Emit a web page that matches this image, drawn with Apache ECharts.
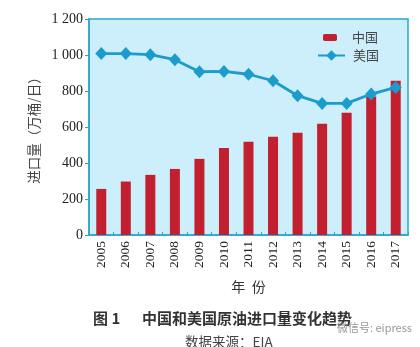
<!DOCTYPE html>
<html><head><meta charset="utf-8">
<script src="https://cdn.jsdelivr.net/npm/echarts@6/dist/echarts.min.js"></script>
<style>html,body{margin:0;padding:0;background:#fff}#c{width:420px;height:347px}</style>
</head><body><div id="c"></div>
<script>
const years = ['2005','2006','2007','2008','2009','2010','2011','2012','2013','2014','2015','2016','2017'];
const chinaImports = [256, 297, 334, 367, 423, 484, 518, 546, 568, 618, 679, 770, 857];
const usImports = [1008, 1008, 1002, 974, 907, 909, 893, 857, 774, 731, 731, 783, 820];
const yTicks = ['0','200','400','600','800','1 000','1 200'];

const serif = '"Liberation Serif","DejaVu Serif","Noto Sans CJK SC",serif';
const cjk = '"Noto Sans CJK SC",sans-serif';
const axisColor = '#2aa6c9';
const chart = echarts.init(document.getElementById('c'), null, {renderer:'canvas'});
chart.setOption({
  animation:false,
  grid:{left:89, right:12, top:19, bottom:112, show:true, backgroundColor:'#cdeefb', borderColor:axisColor, borderWidth:1.5},
  legend:[
    {left:323, top:31, itemWidth:14, itemHeight:7, padding:0,
     textStyle:{fontFamily:cjk, fontSize:13, color:'#444', padding:[0,0,0,10]},
     data:[{name:'中国', icon:'roundRect'}]},
    {left:317, top:49, itemWidth:27, itemHeight:13, padding:0,
     textStyle:{fontFamily:cjk, fontSize:13, color:'#444', padding:[0,0,0,3]},
     data:[{name:'美国'}]}
  ],
  xAxis:{
    type:'category', data:years,
    axisLine:{lineStyle:{color:axisColor, width:1.5}},
    axisTick:{show:true, inside:true, length:3, lineStyle:{color:axisColor}},
    axisLabel:{rotate:90, fontFamily:serif, fontSize:13.5, color:'#222', margin:6},
    name:'年  份', nameLocation:'middle', nameGap:45,
    nameTextStyle:{fontFamily:cjk, fontSize:14, color:'#333'}
  },
  yAxis:{
    type:'value', min:0, max:1200, interval:200,
    axisLine:{show:true, lineStyle:{color:axisColor, width:1.5}},
    axisTick:{show:true, length:4, lineStyle:{color:axisColor}},
    splitLine:{show:false},
    axisLabel:{fontFamily:serif, fontSize:14, color:'#222', margin:6,
      formatter:function(v){return yTicks[Math.round(v/200)];}},
    name:'进口量（万桶/日）', nameLocation:'middle', nameGap:45, nameRotate:90,
    nameTextStyle:{fontFamily:cjk, fontSize:13.5, color:'#444'}
  },
  series:[
    {name:'中国', type:'bar', data:chinaImports, barWidth:10, itemStyle:{color:'#c2202f'}},
    {name:'美国', type:'line', data:usImports, symbol:'diamond', symbolSize:[12,13],
      lineStyle:{color:'#1b9ccd', width:2.8}, itemStyle:{color:'#1b9ccd'}}
  ],
  graphic:[
    {type:'text', x:93, y:318, style:{text:'图 1', font:'bold 15px "Noto Sans CJK SC", sans-serif', fill:'#333', verticalAlign:'middle'}},
    {type:'text', x:142, y:318, style:{text:'中国和美国原油进口量变化趋势', font:'bold 15px "Noto Sans CJK SC", sans-serif', fill:'#333', verticalAlign:'middle'}},
    {type:'text', x:185, y:342, style:{text:'数据来源：EIA', font:'13.5px "Noto Sans CJK SC", sans-serif', fill:'#444', verticalAlign:'middle'}},
    {type:'text', x:337, y:328, style:{text:'微信号: eipress', font:'11px "Noto Sans CJK SC", sans-serif', fill:'#999', verticalAlign:'middle'}}
  ]
});
</script></body></html>
